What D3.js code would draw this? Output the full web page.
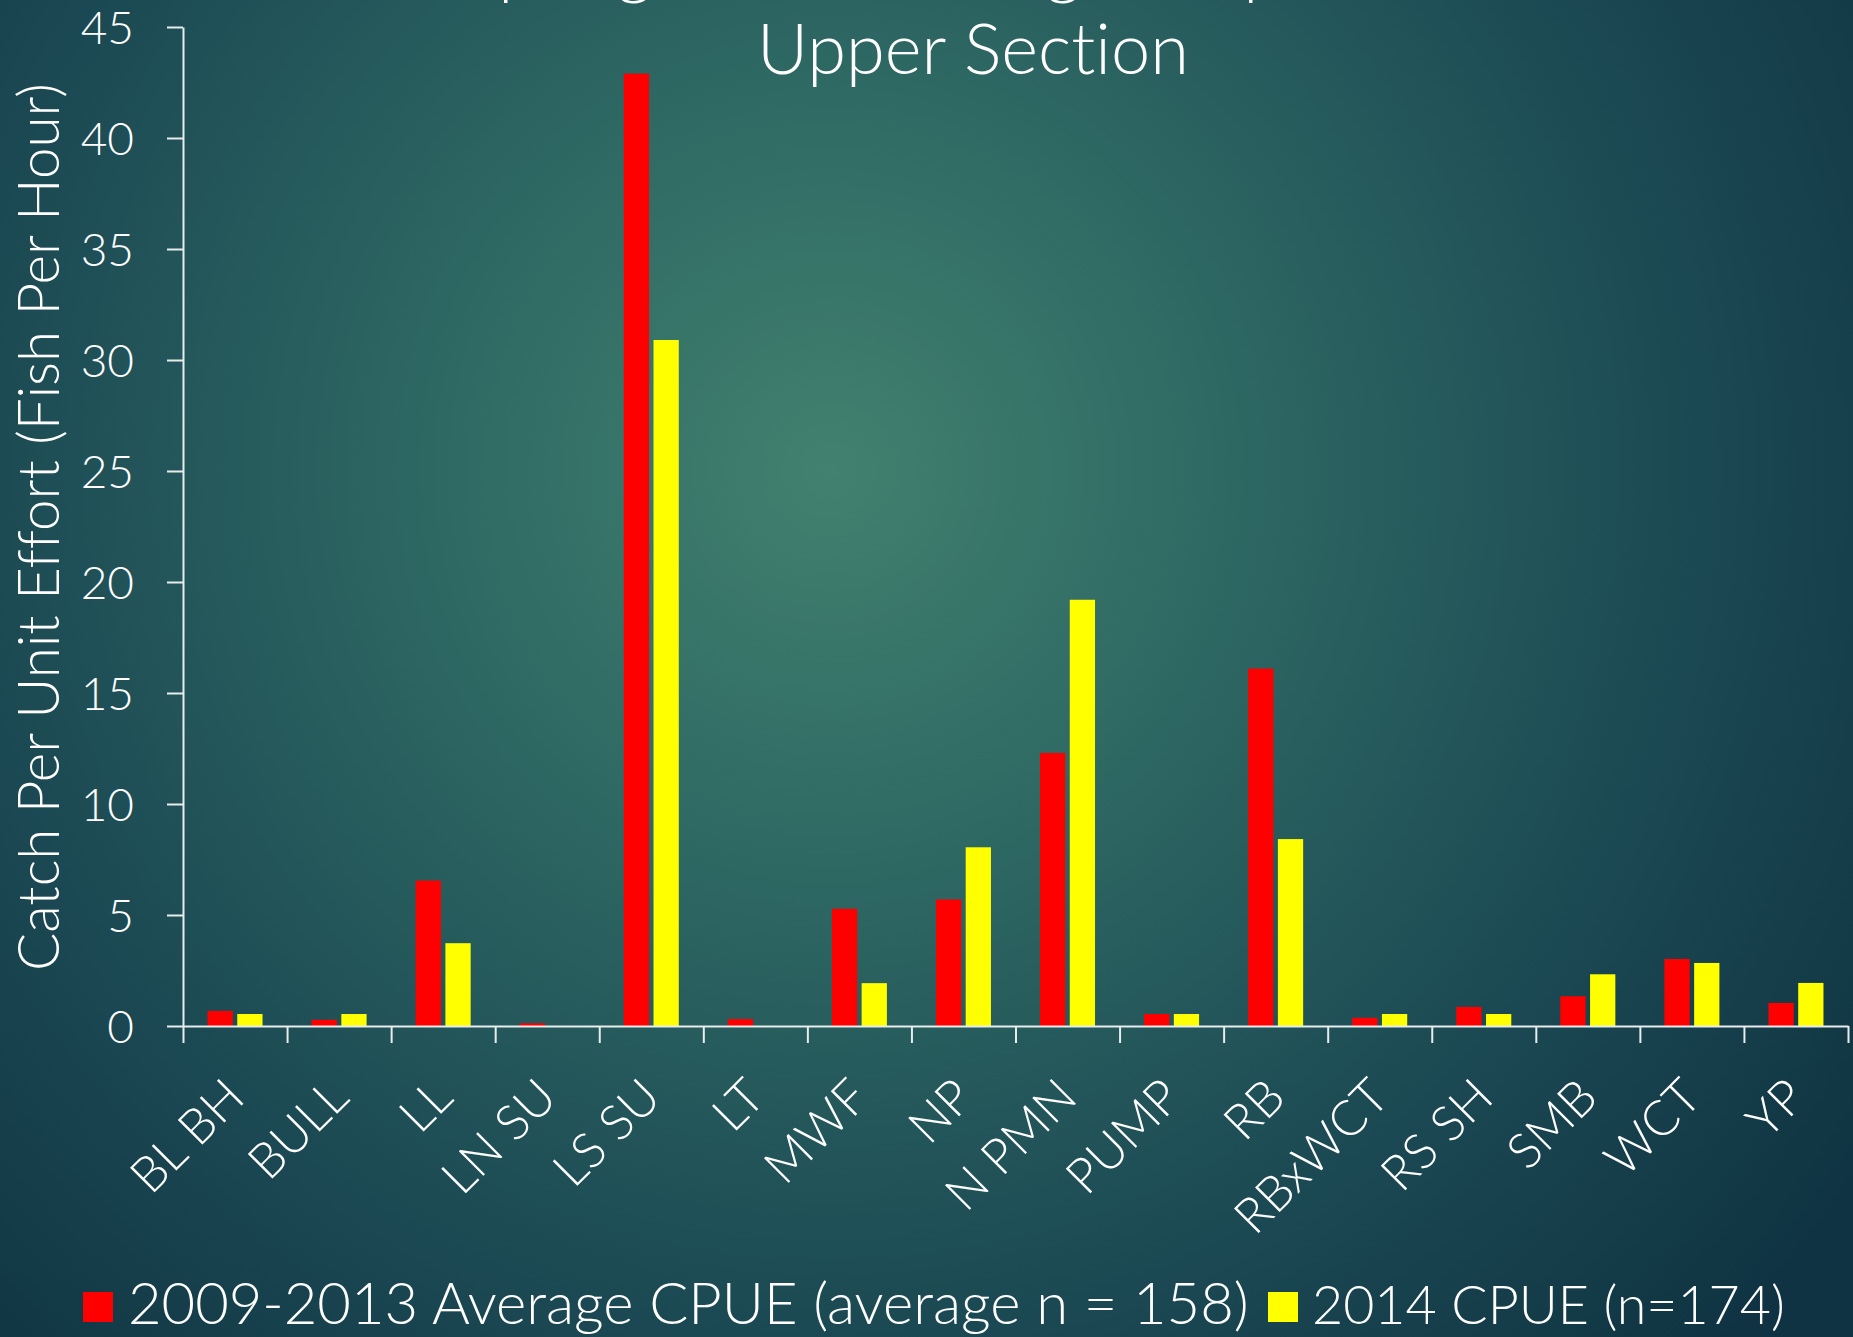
<!DOCTYPE html>
<html>
<head>
<meta charset="utf-8">
<script src="https://cdn.jsdelivr.net/npm/d3@7"></script>
<style>
  html, body { margin: 0; padding: 0; background: #1a4652; }
  svg { display: block; }
  text { font-family: "Century Gothic", Lato, "Open Sans", sans-serif; font-weight: 300; fill: #ffffff; font-variant-ligatures: none; }
</style>
</head>
<body>
<svg id="chart"></svg>
<script>
// data
var categories = ["BL BH", "BULL", "LL", "LN SU", "LS SU", "LT", "MWF", "NP", "N PMN", "PUMP", "RB", "RBxWCT", "RS SH", "SMB", "WCT", "YP"];
var avgCpue = [0.68, 0.28, 6.55, 0.12, 42.9, 0.31, 5.28, 5.7, 12.3, 0.54, 16.1, 0.37, 0.86, 1.34, 3.02, 1.04];
var cpue2014 = [0.54, 0.54, 3.73, 0, 30.9, 0, 1.93, 8.05, 19.2, 0.54, 8.42, 0.54, 0.54, 2.33, 2.84, 1.94];
var seriesNames = ["2009-2013 Average CPUE (average n = 158)", "2014 CPUE (n=174)"];
var seriesColors = ["#ff0000", "#ffff00"];
var yTicks = [0, 5, 10, 15, 20, 25, 30, 35, 40, 45];
var titleLines = ["Spring Electrofishing Composition", "Upper Section"];
var yTitle = "Catch Per Unit Effort (Fish Per Hour)";

var width = 1853, height = 1337;
var padding = { top: 27, right: 5, bottom: 311, left: 183 };

var svg = d3.select("#chart")
    .attr("width", width)
    .attr("height", height);

// background
var grad = svg.append("defs").append("radialGradient")
    .attr("id", "bg")
    .attr("gradientUnits", "userSpaceOnUse")
    .attr("cx", 830).attr("cy", 470).attr("r", 1250);
grad.append("stop").attr("offset", 0).attr("stop-color", "#42816f");
grad.append("stop").attr("offset", 0.3).attr("stop-color", "#2f6a64");
grad.append("stop").attr("offset", 0.65).attr("stop-color", "#1d4c55");
grad.append("stop").attr("offset", 1).attr("stop-color", "#0f3342");
svg.append("rect").attr("width", width).attr("height", height).attr("fill", "url(#bg)");

// shrink or grow font so a text hits a measured width
function fit(sel, target) {
  var w = sel.node().getComputedTextLength();
  var fs = parseFloat(sel.attr("font-size"));
  sel.attr("font-size", fs * target / w);
  return fs * target / w;
}

var data = categories.map((c, i) => ({ cat: c, values: [avgCpue[i], cpue2014[i]] }));

var x0 = d3.scaleBand()
    .domain(categories)
    .range([padding.left, width - padding.right]);

var step = x0.bandwidth();
var x1 = d3.scaleBand()
    .domain([0, 1])
    .range([step / 2 - 27.5, step / 2 + 27.5])
    .paddingInner(0.15);

var yScale = d3.scaleLinear()
    .domain([0, 45])
    .range([height - padding.bottom, padding.top]);

var xIndex = d3.scaleLinear()
    .domain([0, categories.length])
    .range(x0.range());

// bars
var groups = svg.selectAll(".group")
  .data(data)
  .enter().append("g")
    .attr("transform", d => "translate(" + x0(d.cat) + ",0)");

groups.selectAll("rect")
  .data(d => d.values.map((v, k) => ({ k: k, v: v })))
  .enter().append("rect")
    .attr("x", d => x1(d.k))
    .attr("width", x1.bandwidth())
    .attr("y", d => yScale(d.v))
    .attr("height", d => yScale(0) - yScale(d.v))
    .attr("fill", d => seriesColors[d.k]);

// y axis
var yAxis = d3.axisLeft(yScale)
    .tickValues(yTicks)
    .tickSize(16)
    .tickSizeOuter(0)
    .tickPadding(33);

var gy = svg.append("g")
    .attr("transform", "translate(" + padding.left + ",0)")
    .call(yAxis);
gy.selectAll("line, path").attr("stroke", "#e8ecec").attr("stroke-width", 2);
gy.selectAll("text")
    .attr("font-size", 46)
    .attr("font-family", null)
    .attr("fill", "#ffffff")
    .attr("dy", "0.36em");

// x axis: ticks at category boundaries
var xAxis = d3.axisBottom(xIndex)
    .tickValues(d3.range(categories.length + 1))
    .tickFormat("")
    .tickSize(17)
    .tickSizeOuter(0);

var gx = svg.append("g")
    .attr("transform", "translate(0," + yScale(0) + ")")
    .call(xAxis);
gx.selectAll("line, path").attr("stroke", "#e8ecec").attr("stroke-width", 2);

// x labels, rotated
var xLabels = svg.append("g").selectAll("text")
  .data(categories)
  .enter().append("text")
    .attr("font-size", 48)
    .attr("text-anchor", "end")
    .attr("transform", d => "translate(" + (x0(d) + step / 2 + 12) + "," + (yScale(0) + 74) + ") rotate(-45)")
    .text(d => d);
var labelSize = fit(d3.select(xLabels.nodes()[0]), 136);
xLabels.attr("font-size", labelSize);

// y title
var yt = svg.append("text")
    .attr("font-size", 50)
    .attr("text-anchor", "middle")
    .attr("transform", "translate(" + 39 + "," + 527 + ") rotate(-90)")
    .attr("dy", "0.35em")
    .text(yTitle);
fit(yt, 888);

// title, first line sits mostly above the top edge
var t2 = svg.append("text")
    .attr("x", 973)
    .attr("y", 74)
    .attr("font-size", 70)
    .attr("text-anchor", "middle")
    .text(titleLines[1]);
var titleSize = fit(t2, 432);
svg.append("text")
    .attr("x", 973)
    .attr("y", 74 - titleSize * 1.2)
    .attr("font-size", titleSize)
    .attr("text-anchor", "middle")
    .text(titleLines[0]);

// legend
var legend = svg.append("g");
legend.append("rect")
    .attr("x", 83).attr("y", 1292)
    .attr("width", 30).attr("height", 30)
    .attr("fill", seriesColors[0]);
legend.append("rect")
    .attr("x", 1268).attr("y", 1292)
    .attr("width", 30).attr("height", 30)
    .attr("fill", seriesColors[1]);
var lt1 = legend.append("text")
    .attr("x", 128)
    .attr("y", 1324)
    .attr("font-size", 50)
    .text(seriesNames[0]);
fit(lt1, 1121);
var lt2 = legend.append("text")
    .attr("x", 1312)
    .attr("y", 1324)
    .attr("font-size", 50)
    .text(seriesNames[1]);
fit(lt2, 473);
</script>
</body>
</html>
